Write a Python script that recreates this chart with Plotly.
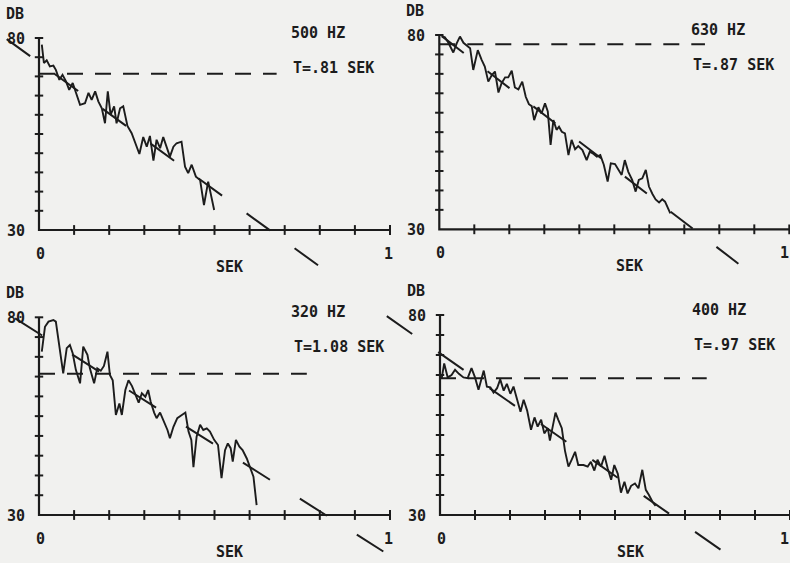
import plotly.graph_objects as go

# ---------------- data ----------------
x_ticks = [0, 0.1, 0.2, 0.3, 0.4, 0.5, 0.6, 0.7, 0.8, 0.9, 1.0]
y_ticks = [30, 35, 40, 45, 50, 55, 60, 65, 70, 75, 80]

freq_labels = ["500 HZ", "630 HZ", "320 HZ", "400 HZ"]
t_labels = ["T=.81 SEK", "T=.87 SEK", "T=1.08 SEK", "T=.97 SEK"]

t_500 = [0.008, 0.014, 0.022, 0.031, 0.041, 0.048, 0.058, 0.067, 0.077, 0.086, 0.096, 0.105,
         0.117, 0.131, 0.141, 0.150, 0.160, 0.169, 0.179, 0.188, 0.196, 0.204, 0.214, 0.221,
         0.231, 0.240, 0.252, 0.264, 0.274, 0.286, 0.297, 0.307, 0.316, 0.326, 0.335, 0.345,
         0.354, 0.364, 0.373, 0.383, 0.392, 0.406, 0.416, 0.425, 0.435, 0.447, 0.459, 0.470,
         0.482, 0.499]
db_500 = [78.3, 73.5, 74.2, 72.6, 72.8, 71.7, 69.1, 70.4, 68.7, 66.5, 68.3, 66.1,
          62.6, 63.0, 65.7, 63.9, 66.1, 63.5, 61.7, 57.8, 66.1, 60.0, 62.2, 57.8,
          61.7, 62.2, 57.1, 55.2, 52.6, 49.8, 54.2, 51.7, 54.5, 48.1, 53.5, 51.3,
          54.2, 51.7, 49.1, 51.7, 52.6, 53.0, 46.5, 44.8, 47.0, 43.9, 43.0, 36.5,
          42.6, 35.2]

t_630 = [0.007, 0.016, 0.026, 0.040, 0.050, 0.059, 0.069, 0.078, 0.088, 0.097, 0.110, 0.121,
         0.130, 0.140, 0.150, 0.159, 0.169, 0.178, 0.188, 0.197, 0.207, 0.216, 0.226, 0.237,
         0.247, 0.256, 0.264, 0.271, 0.283, 0.292, 0.302, 0.310, 0.318, 0.326, 0.335, 0.342,
         0.350, 0.359, 0.369, 0.378, 0.388, 0.397, 0.409, 0.421, 0.430, 0.441, 0.450, 0.460,
         0.470, 0.481, 0.490, 0.502, 0.511, 0.521, 0.530, 0.540, 0.551, 0.561, 0.570, 0.580,
         0.590, 0.599, 0.609, 0.618, 0.628, 0.637, 0.645, 0.652, 0.660]
db_630 = [79.7, 79.4, 78.0, 75.5, 77.9, 79.6, 78.0, 77.4, 76.6, 71.0, 76.1, 73.6,
          71.9, 68.0, 69.7, 70.6, 65.2, 67.6, 69.1, 69.1, 70.8, 66.5, 66.0, 68.0,
          64.1, 62.2, 61.7, 58.1, 61.4, 59.8, 62.4, 60.3, 51.7, 58.1, 55.6, 56.4,
          55.1, 54.7, 49.1, 53.0, 50.6, 51.4, 50.4, 47.8, 50.0, 49.4, 48.7, 49.1,
          46.6, 42.3, 47.0, 46.8, 45.3, 44.0, 47.8, 44.8, 42.7, 39.7, 42.7, 43.1,
          45.3, 41.0, 39.1, 37.7, 36.9, 37.7, 37.1, 35.7, 34.1]

t_320 = [0.008, 0.017, 0.027, 0.041, 0.048, 0.058, 0.069, 0.079, 0.088, 0.096, 0.105, 0.117,
         0.126, 0.138, 0.145, 0.157, 0.166, 0.176, 0.185, 0.195, 0.202, 0.210, 0.219, 0.229,
         0.236, 0.246, 0.255, 0.265, 0.274, 0.284, 0.293, 0.303, 0.311, 0.318, 0.328, 0.335,
         0.345, 0.354, 0.366, 0.373, 0.383, 0.394, 0.406, 0.417, 0.426, 0.434, 0.440, 0.449,
         0.459, 0.468, 0.478, 0.487, 0.499, 0.510, 0.520, 0.530, 0.538, 0.546, 0.552, 0.561,
         0.571, 0.580, 0.592, 0.601, 0.611, 0.620]
db_320 = [71.3, 77.6, 78.9, 79.3, 78.9, 72.6, 65.8, 72.2, 73.0, 70.9, 66.7, 63.3,
          72.6, 70.5, 67.1, 63.3, 67.1, 66.5, 67.7, 71.3, 65.4, 64.1, 55.3, 58.2,
          55.3, 61.6, 64.1, 62.6, 60.4, 58.4, 60.8, 59.9, 61.6, 58.7, 55.9, 54.5,
          55.9, 54.0, 51.5, 49.4, 52.3, 54.5, 55.3, 55.9, 51.1, 49.0, 42.1, 49.8,
          52.8, 51.5, 51.9, 51.1, 49.0, 47.7, 39.3, 46.4, 48.1, 46.9, 43.5, 49.0,
          47.3, 46.4, 44.3, 42.2, 39.7, 32.5]

t_400 = [0.005, 0.012, 0.022, 0.033, 0.043, 0.054, 0.067, 0.079, 0.090, 0.100, 0.110, 0.117,
         0.125, 0.134, 0.144, 0.153, 0.163, 0.172, 0.182, 0.191, 0.201, 0.210, 0.220, 0.230,
         0.239, 0.249, 0.260, 0.270, 0.279, 0.289, 0.298, 0.308, 0.314, 0.323, 0.330, 0.338,
         0.348, 0.357, 0.367, 0.376, 0.386, 0.395, 0.410, 0.422, 0.431, 0.441, 0.450, 0.460,
         0.470, 0.479, 0.489, 0.498, 0.508, 0.517, 0.527, 0.536, 0.546, 0.557, 0.567, 0.578,
         0.588, 0.597, 0.607, 0.616]
db_400 = [64.2, 67.9, 64.4, 65.0, 66.3, 65.3, 64.4, 64.2, 66.7, 64.4, 61.3, 63.8,
          66.1, 62.1, 61.9, 60.6, 61.7, 63.9, 61.1, 62.8, 60.3, 62.1, 58.8, 55.8,
          58.8, 56.1, 51.3, 54.4, 52.1, 53.8, 50.4, 51.7, 48.6, 52.8, 55.6, 53.8,
          51.7, 46.1, 42.1, 43.8, 45.8, 42.5, 42.5, 42.1, 43.3, 41.1, 43.8, 42.1,
          44.8, 41.7, 38.8, 42.5, 40.3, 35.6, 38.3, 35.4, 37.3, 37.9, 36.7, 41.3,
          36.3, 35.0, 33.3, 32.3]

curves_t = [t_500, t_630, t_320, t_400]
curves_db = [db_500, db_630, db_320, db_400]

# regression (decay fit) lines: level at t=0 and slope in dB/s, drawn span
reg_intercept = [73.6, 80.2, 75.9, 70.4]
reg_slope = [-66.4, -69.1, -56.2, -61.2]
reg_t_start = [-0.092, 0.007, -0.068, -0.152]
reg_t_end = [0.801, 0.864, 0.981, 0.810]

# horizontal reference levels
ref_level = [70.7, 77.6, 65.7, 64.2]
ref_t_end = [0.677, 0.759, 0.763, 0.762]

# ---------------- layout calibration (pixels) ----------------
W, H = 790, 563
# per panel: pixel x of t=0, t=1 ; pixel y of 80 dB, 30 dB ; plot box L,R,T,B
calib = [
    dict(x0=39.0, x1=390.0, y80=38.0, y30=230.0, L=0, R=395, T=0, B=280),
    dict(x0=439.3, x1=789.3, y80=35.0, y30=229.3, L=395, R=790, T=0, B=280),
    dict(x0=39.0, x1=390.0, y80=317.3, y30=515.0, L=0, R=395, T=280, B=563),
    dict(x0=440.0, x1=790.0, y80=315.0, y30=515.0, L=380, R=790, T=280, B=563),
]
reg_dash = ["29px,30.3px", "27.7px,30px", "32px,35.4px", "31px,31.7px"]

INK = "#1c1c1c"
FONT = dict(family="DejaVu Sans Mono", size=15, color=INK, weight="bold")

fig = go.Figure()
layout = dict(width=W, height=H, margin=dict(l=0, r=0, t=0, b=0),
              paper_bgcolor="#f1f1ef", plot_bgcolor="rgba(0,0,0,0)",
              showlegend=False)
annotations = []

def px2t(c, px):
    return (px - c["x0"]) / (c["x1"] - c["x0"])

def py2db(c, py):
    return 80 - (py - c["y80"]) / (c["y30"] - c["y80"]) * 50

for i, c in enumerate(calib):
    xa = "xaxis" if i == 0 else f"xaxis{i+1}"
    ya = "yaxis" if i == 0 else f"yaxis{i+1}"
    xr = "x" if i == 0 else f"x{i+1}"
    yr = "y" if i == 0 else f"y{i+1}"
    layout[xa] = dict(domain=[c["L"] / W, c["R"] / W],
                      range=[px2t(c, c["L"]), px2t(c, c["R"])],
                      visible=False, anchor=yr, fixedrange=True)
    layout[ya] = dict(domain=[1 - c["B"] / H, 1 - c["T"] / H],
                      range=[py2db(c, c["B"]), py2db(c, c["T"])],
                      visible=False, anchor=xr, fixedrange=True)

    x_lo, x_hi = x_ticks[0], x_ticks[-1]
    y_lo, y_hi = y_ticks[0], y_ticks[-1]
    # axes
    fig.add_trace(go.Scatter(x=[x_hi, x_lo, x_lo], y=[y_lo, y_lo, y_hi], mode="lines",
                             line=dict(color=INK, width=2.2), xaxis=xr, yaxis=yr,
                             hoverinfo="skip"))
    # tick marks
    fig.add_trace(go.Scatter(x=x_ticks[1:], y=[y_lo] * (len(x_ticks) - 1), mode="markers",
                             marker=dict(symbol="line-ns", size=7,
                                         line=dict(color=INK, width=2)),
                             xaxis=xr, yaxis=yr, hoverinfo="skip", cliponaxis=False))
    fig.add_trace(go.Scatter(x=[x_lo] * (len(y_ticks) - 1), y=y_ticks[1:], mode="markers",
                             marker=dict(symbol="line-ew", size=6,
                                         line=dict(color=INK, width=2)),
                             xaxis=xr, yaxis=yr, hoverinfo="skip", cliponaxis=False))
    # horizontal reference dashed line
    fig.add_trace(go.Scatter(x=[x_lo, ref_t_end[i]], y=[ref_level[i], ref_level[i]],
                             mode="lines", line=dict(color=INK, width=2, dash="16px,12px"),
                             xaxis=xr, yaxis=yr, hoverinfo="skip"))
    # regression line
    ts = [reg_t_start[i], reg_t_end[i]]
    fig.add_trace(go.Scatter(x=ts, y=[reg_intercept[i] + reg_slope[i] * t for t in ts],
                             mode="lines", line=dict(color=INK, width=2, dash=reg_dash[i]),
                             xaxis=xr, yaxis=yr, hoverinfo="skip"))
    # decay curve
    fig.add_trace(go.Scatter(x=curves_t[i], y=curves_db[i], mode="lines",
                             line=dict(color=INK, width=1.9), xaxis=xr, yaxis=yr,
                             hoverinfo="skip"))

    # texts (pixel positions relative to panel origin)
    ox, oy = c["x0"], c["y30"]
    texts = [
        ("DB", ox - 24, c["y80"] - 24),
        (str(y_hi), ox - 23, c["y80"] + 1),
        (str(y_lo), ox - 23, oy + 1),
        (str(x_lo), ox + 1, oy + 24),
        (str(int(x_hi)), min(c["x1"] - 2, W - 6), oy + 24),
        ("SEK", ox + 190, oy + 37),
        (freq_labels[i], ox + 279, c["y80"] - 5),
        (t_labels[i], ox + 294 + (6 if i == 2 else 0), c["y80"] + 30),
    ]
    for txt, px, py in texts:
        annotations.append(dict(text=txt, x=px / W, y=1 - py / H, xref="paper", yref="paper",
                                xanchor="center", yanchor="middle", showarrow=False,
                                font=FONT))

layout["annotations"] = annotations
fig.update_layout(**layout)
fig.write_html("out.html")
